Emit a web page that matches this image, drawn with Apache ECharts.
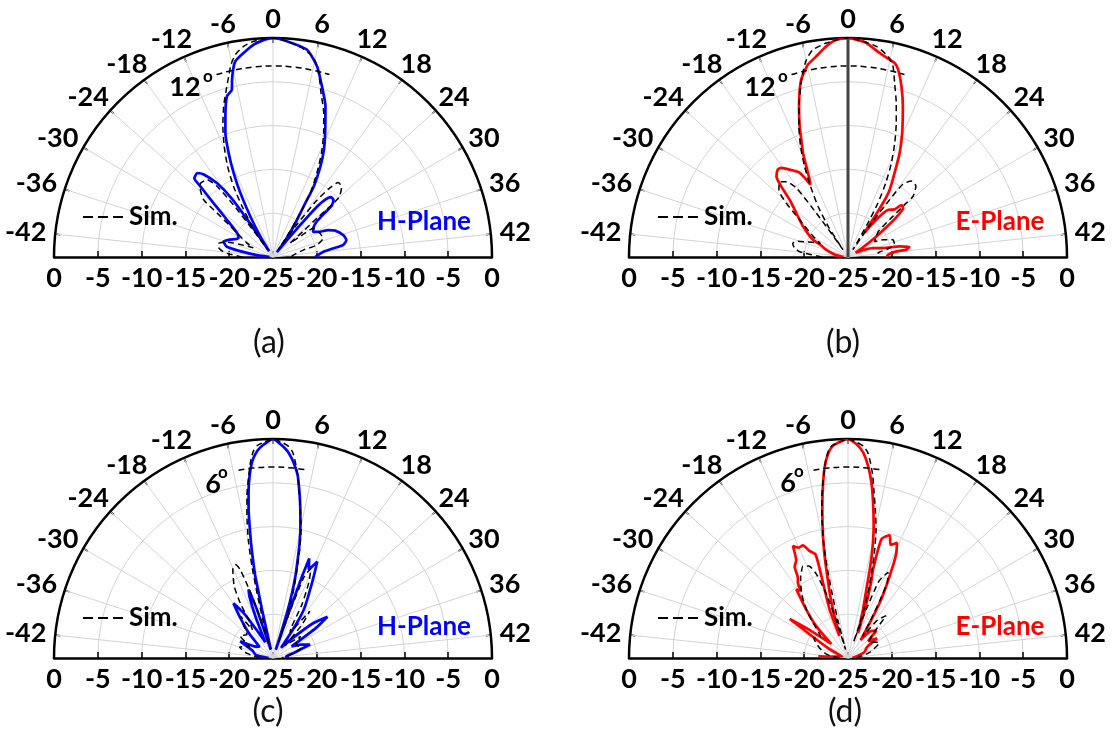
<!DOCTYPE html>
<html><head><meta charset="utf-8">
<script src="https://cdn.jsdelivr.net/npm/echarts@6/dist/echarts.min.js"></script>
<style>html,body{margin:0;padding:0;background:#fff}#c{width:1114px;height:750px}</style>
</head><body><div id="c"></div>
<script>
// ---- tick labels ----
const angleTicks = [-42,-36,-30,-24,-18,-12,-6,0,6,12,18,24,30,36,42];
const radiusTicks = [-25,-20,-15,-10,-5,0];
const captions = ['(a)','(b)','(c)','(d)'];
const planeNames = ['H-Plane','E-Plane','H-Plane','E-Plane'];
const beamLabels = ['12','12','6','6'];

// ---- series values: [angle (deg), level (dB)] ----
const measA = [[-45,-24.6],[-42,-23.3],[-40,-21.3],[-38.7,-19.6],[-37.5,-19.3],[-36.2,-19.1],[-34,-19.7],[-32.5,-20.2],[-30.5,-20.5],[-28.2,-20.1],[-25.5,-18.2],[-23.9,-15.8],[-22.9,-13.4],[-22.5,-12.3],[-21,-12.1],[-20,-12.7],[-18.6,-14.4],[-17.6,-16.8],[-17.2,-20],[-16.6,-24.2],[-15.75,-22.2],[-14.6,-19.7],[-13.5,-16.8],[-12.55,-14.4],[-11.55,-12.1],[-10.5,-9.84],[-9.35,-8.05],[-8.0,-5.92],[-6.9,-5.33],[-6.5,-4.22],[-6.0,-3.13],[-5.45,-2.25],[-4.1,-1.47],[-2.6,-0.66],[-1.68,-0.34],[0,0],[1.86,-0.33],[4.66,-1.02],[6.5,-2.66],[8.0,-4.73],[9.6,-6.79],[11.4,-9.63],[12.7,-11.45],[13.8,-13.3],[15.0,-15.7],[15.6,-18.24],[17,-20.8],[18.6,-23.0],[19.6,-24.3],[20.2,-20.5],[20.6,-17.3],[21.3,-16],[22,-15.5],[23.3,-15.5],[24.4,-16.1],[24.8,-17.3],[25.5,-18.6],[27,-19.3],[29,-19.6],[30.9,-18.9],[32,-18.0],[33.5,-17.3],[36.3,-16.6],[38.5,-16.4],[40.2,-16.9],[40.9,-18.0],[42,-19.2],[45,-20.2]];
const simA = [[-45,-21.5],[-42.5,-19.5],[-40,-18.7],[-38,-18.6],[-36,-19.5],[-34,-21.5],[-32.5,-22.5],[-30.8,-21.6],[-27.1,-19.0],[-25.9,-16.9],[-25.2,-14.7],[-23,-13.4],[-22.2,-13.2],[-20.2,-13.4],[-19.2,-14.7],[-18.6,-17.5],[-18.3,-21],[-18.0,-24],[-17.3,-21.2],[-15.7,-18.2],[-14.6,-15.8],[-13.3,-13.4],[-11.9,-11.2],[-10.5,-9.03],[-9.07,-6.9],[-7.8,-5.17],[-6.9,-3.77],[-6.16,-2.53],[-5.27,-1.5],[-3.96,-0.72],[-2.56,-0.28],[-1.67,-0.15],[0,0],[1.86,-0.33],[4.2,-1.0],[5.77,-1.81],[6.97,-3.36],[8.16,-5.49],[9.7,-7.57],[11.1,-9.7],[12.5,-11.9],[13.8,-14.2],[15.1,-16.5],[15.9,-19.1],[17,-22],[17.6,-24],[18.2,-20.5],[18.8,-17],[19.6,-15],[20.6,-13.7],[22.2,-13.8],[23.9,-14.8],[24.2,-16.05],[24.3,-18.3],[24.8,-20.5],[25.5,-22.5],[26.5,-21],[27.3,-19.35],[31.6,-19.0],[34.8,-18.9],[37.3,-19.8],[38.5,-21.4],[40.6,-22.3],[45,-23]];
const measB = [[-45,-24.5],[-40,-23.5],[-36,-22.4],[-33,-21.5],[-31.8,-20.5],[-27.9,-18.8],[-24.8,-17.25],[-22.8,-15.7],[-21.7,-13.9],[-20.8,-12.7],[-19.35,-12.2],[-18.4,-12.3],[-16.9,-13.0],[-14.95,-13.9],[-13.75,-15.7],[-13.2,-15.15],[-12.35,-13.6],[-11.7,-12.06],[-10.85,-10.6],[-10.15,-9.1],[-9.0,-6.91],[-8.05,-5.12],[-7.4,-4.07],[-6.6,-3.23],[-5.9,-2.58],[-4.5,-1.81],[-2.94,-0.82],[-2.0,-0.32],[-1.1,-0.1],[0,0],[1.1,-0.17],[2.45,-0.48],[4.4,-1.43],[5.96,-1.98],[6.76,-2.22],[7.5,-2.86],[8.7,-4.59],[10.0,-6.69],[11.8,-9.55],[13.2,-11.74],[14.5,-14.03],[15.9,-15.96],[16.5,-17.65],[16.7,-19.45],[16.9,-21.2],[17.3,-21.6],[18.2,-20.2],[19.4,-18.6],[20.3,-17.9],[21.5,-17.6],[22.3,-17.35],[22.9,-16.5],[24.3,-16.6],[25.2,-17.8],[26,-19.3],[27,-21],[28.5,-23],[30,-24],[33,-23],[35,-22],[37.8,-20.9],[39.2,-19],[40.4,-17.9],[41.4,-18.3],[41.7,-19.4],[43.3,-20.4],[45,-20.6]];
const simB = [[-45,-22],[-42,-19.5],[-40.2,-18.8],[-38,-18.5],[-36.6,-18.8],[-34,-20.5],[-32,-21.5],[-29.7,-20.4],[-26.2,-18.0],[-24.4,-15.6],[-22.9,-14.0],[-21.2,-13.4],[-19.6,-13.9],[-18.4,-15.2],[-18.0,-18],[-17.6,-21.5],[-17.2,-24],[-16.5,-21],[-15.3,-18.3],[-14,-15.9],[-12.8,-13.5],[-11.6,-11.26],[-10.3,-9.07],[-9,-6.9],[-7.75,-4.78],[-6.8,-3.2],[-5.96,-1.98],[-4.8,-1.0],[-2.9,-0.45],[-1.3,-0.16],[0,0],[1.54,-0.23],[3.83,-0.73],[5.64,-1.64],[6.64,-2.64],[7.5,-4.44],[8.7,-6.58],[9.9,-8.74],[11.15,-10.94],[12.4,-13.2],[13.5,-15.5],[14.5,-17.95],[15.2,-20.5],[16,-23],[16.6,-24],[17.3,-20.5],[18,-16.9],[18.5,-14.6],[19.9,-13.7],[21.9,-13.8],[23.5,-14.85],[23.6,-15.9],[23.9,-18.1],[25,-20.5],[27,-21],[30,-21.5],[32,-20.5],[34.5,-19.5],[37,-19.5],[38.9,-20.1],[41,-21.5],[45,-22]];
const measC = [[-45,-24.5],[-40,-23],[-35,-22.5],[-31.5,-20.8],[-29,-22.5],[-25,-23],[-22,-21],[-19.5,-19],[-17.95,-17.3],[-16.5,-19],[-15,-21.5],[-13,-23],[-11.5,-20],[-10.5,-17.5],[-9.8,-16.7],[-9.2,-19],[-8.5,-23],[-7.0,-24],[-6.5,-21.7],[-6.4,-19.3],[-6.2,-17.4],[-6.1,-15.4],[-5.75,-13.5],[-5.4,-11.6],[-5.02,-9.69],[-4.66,-7.79],[-4.2,-5.9],[-3.66,-4.03],[-3.07,-2.54],[-2.48,-1.63],[-1.73,-0.91],[-0.8,-0.37],[0,0],[0.98,-0.56],[1.94,-1.28],[2.74,-2.19],[3.35,-3.1],[3.87,-4.0],[4.68,-6.24],[5.2,-7.73],[5.86,-9.6],[6.5,-11.48],[7.04,-13.4],[7.65,-15.3],[8.15,-17.24],[8.6,-19.5],[9.0,-22.5],[9.3,-24],[9.6,-20],[9.8,-15],[10,-12.9],[11,-14.1],[12.35,-12.9],[13.7,-15.3],[16.2,-18.4],[17.5,-21],[19,-23.5],[22,-22],[24.5,-19],[26.4,-17.2],[27.5,-19],[29,-22.5],[32,-21.5],[35,-20.5],[38,-22.5],[42,-23.5],[45,-23.2]];
const simC = [[-45,-23.5],[-40,-22],[-36,-21],[-32,-22],[-28,-20.5],[-24,-21],[-21,-20],[-19,-19],[-18,-21],[-16.5,-20.2],[-15.4,-17.7],[-14.2,-15.7],[-12.2,-13.9],[-11,-13.5],[-10.2,-14.2],[-9.5,-17],[-8.8,-21],[-8.2,-24],[-7.5,-20.85],[-6.9,-17.3],[-6.45,-14.2],[-5.97,-11.54],[-5.2,-8.51],[-4.57,-6.25],[-3.8,-4.01],[-3.16,-2.15],[-2.67,-1.23],[-2.16,-0.7],[-1.24,-0.36],[0,0],[1.2,-0.37],[2.12,-0.78],[2.74,-1.42],[3.27,-2.53],[3.87,-4.0],[4.48,-5.88],[5.2,-7.73],[6.15,-9.96],[6.9,-12.2],[7.6,-14.5],[8.55,-17.2],[9.3,-20],[9.6,-23],[10,-19],[10.5,-15],[11.5,-13.9],[12.7,-15.5],[14.2,-18.05],[15.5,-21],[17,-21.5],[19.1,-18.2],[20.5,-20],[22,-23],[26,-21],[30,-22],[35,-21.5],[40,-23],[45,-24]];
const measD = [[-43.4,-21.6],[-42,-23.5],[-38,-24.3],[-32,-22.5],[-28.1,-17.0],[-27,-19.5],[-25,-22.5],[-22.5,-19.9],[-20.4,-17.7],[-18.5,-15.2],[-17.5,-15.6],[-16.85,-14.7],[-16,-14.2],[-15.1,-12.9],[-14,-12.4],[-13.1,-10.75],[-12,-11.2],[-10.9,-11.15],[-9.9,-12.0],[-8.7,-12.6],[-9.0,-15.2],[-10.4,-19.1],[-10.5,-22.3],[-8.9,-20],[-8.0,-17.66],[-7.1,-15.35],[-6.46,-13.05],[-5.8,-10.8],[-4.9,-7.76],[-4.14,-5.14],[-3.5,-3.08],[-2.8,-1.6],[-2.03,-0.7],[-0.66,-0.18],[0,0],[1.12,-0.55],[2.1,-1.47],[2.98,-2.94],[3.8,-4.79],[4.58,-7.02],[5.5,-9.64],[6.33,-12.29],[6.9,-14.58],[7.5,-16.9],[8.6,-19.2],[10.9,-21.9],[9.5,-19],[8.5,-16],[7.9,-14.5],[7.87,-10.9],[9.4,-10.2],[10.3,-11.2],[11.5,-10.7],[12.35,-11.8],[13.0,-13.3],[14.0,-15.7],[14.95,-17.7],[15.9,-20.3],[17.5,-22.5],[20,-21],[23,-20.5],[25,-22],[28,-21],[30,-22.5],[35,-23],[40,-24],[45,-24.5]];
const simD = [[-45,-24],[-40,-22.5],[-35,-21.5],[-30,-20.5],[-26,-21],[-22,-19],[-20,-17.5],[-18,-16],[-15.5,-14.5],[-13,-13.3],[-11.5,-13.6],[-10.3,-14.8],[-9.3,-17.5],[-8.6,-21],[-8.1,-24],[-7.5,-20.5],[-6.9,-17.3],[-6.45,-14.2],[-5.97,-11.54],[-5.2,-8.51],[-4.57,-6.25],[-3.8,-4.01],[-3.16,-2.15],[-2.67,-1.23],[-2.16,-0.7],[-1.24,-0.36],[0,0],[1.2,-0.37],[2.12,-0.78],[2.74,-1.42],[3.27,-2.53],[3.87,-4.0],[4.48,-5.88],[5.2,-7.73],[6.15,-9.96],[6.9,-12.2],[7.6,-14.5],[8.55,-17.2],[9.3,-20],[9.6,-23],[10.3,-19],[11,-15.5],[12.5,-14.2],[13.5,-15],[14.5,-17.5],[15.5,-20],[17,-22],[19,-19.5],[21,-18.5],[23,-21],[26,-22],[32,-21],[38,-22.5],[45,-24]];
// beamwidth marker arcs [angle, dB]
const beamArcWide = [[-8.6,-3.2],[-6,-3.2],[-3,-3.2],[0,-3.2],[3,-3.2],[6,-3.2],[8.6,-3.2]];
const beamArcNarrow = [[-5.2,-3.2],[-3,-3.2],[0,-3.2],[3,-3.2],[5.2,-3.2]];

// ---- layout ----
const R = 219;
const panels = [
  {cx:273, cy:257, meas:measA, sim:simA, color:'#0000ff', arc:beamArcWide, cap:[269,343], plane:[424,222], bw:[185,87], deg:[208,77]},
  {cx:848, cy:257, meas:measB, sim:simB, color:'#ff0000', arc:beamArcWide, zeroLine:true, cap:[843,343], plane:[1000,222], bw:[760,87], deg:[783,77]},
  {cx:273, cy:658, meas:measC, sim:simC, color:'#0000ff', arc:beamArcNarrow, cap:[268,712], plane:[424,627], bw:[213,484], deg:[223,473]},
  {cx:848, cy:658, meas:measD, sim:simD, color:'#ff0000', arc:beamArcNarrow, cap:[845,712], plane:[1000,627], bw:[788,483], deg:[799,472]}
];
const FONT = 'Lato';
const LABEL_SIZE = 27;
const toPolar = arr => arr.map(p => [p[1], p[0]]);

// angle-axis label boxes: centre each label on its spoke, just outside the rim
const mctx = document.createElement('canvas').getContext('2d');
mctx.font = 'bold ' + LABEL_SIZE + 'px ' + FONT;
const M_AXIS = -20, M_GAP = 9, GLYPH_H = 20, LH = LABEL_SIZE;
const angleRich = {};
angleTicks.forEach((v, k) => {
  const phi = 2 * v * Math.PI / 180;
  const s = Math.sin(phi), c = Math.cos(phi);
  const W = mctx.measureText(String(v)).width;
  const Cx = (R + M_GAP) * s + W / 2 * s, Cy = (R + M_GAP) * c + GLYPH_H / 2 * c;
  const Ax = (R + M_AXIS) * s, Ay = (R + M_AXIS) * c;
  const kk = (R + M_AXIS) / R;
  let pl = 0, pr = 0, pt = 0, pb = 0;
  if (Math.abs(s) * kk < 0.3) { const d = 2 * (Cx - Ax); if (d > 0) pl = d; else pr = -d; }
  else if (s > 0) pl = Cx - Ax - W / 2;
  else pr = Ax - Cx - W / 2;
  if (Math.abs(c) * kk < 0.3) { const d = 2 * (Cy - Ay); if (d > 0) pb = d; else pt = -d; }
  else pb = Cy - Ay - LH / 2;
  angleRich['t' + k] = {fontFamily:FONT, fontWeight:'bold', fontSize:LABEL_SIZE, color:'#000',
    padding:[Math.max(0,pt), Math.max(0,pr), Math.max(0,pb), Math.max(0,pl)]};
});

const polar = [], angleAxis = [], radiusAxis = [], series = [], title = [], legend = [];
const addText = (text, pos, style) => title.push({text, left:pos[0], top:pos[1], padding:0,
  textAlign:'center', textVerticalAlign:'middle', textStyle:Object.assign({fontFamily:FONT}, style)});

panels.forEach((p, i) => {
  const mainIdx = 2*i, sideIdx = 2*i+1;
  polar.push({center:[p.cx, p.cy], radius:R});
  polar.push({center:[p.cx, p.cy], radius:R});
  angleAxis.push({
    polarIndex: mainIdx, type:'value', min:-45, max:45, startAngle:180, endAngle:0, clockwise:true,
    axisLine:{show:true, lineStyle:{color:'#000', width:2.5}},
    axisTick:{show:true, inside:true, length:5, customValues:angleTicks, lineStyle:{color:'#000', width:1.5}},
    axisLabel:{show:true, customValues:angleTicks, margin:M_AXIS,
      formatter: v => '{t' + angleTicks.indexOf(v) + '|' + v + '}', rich: angleRich},
    splitLine:{show:true, lineStyle:{color:'#d4d4d4', width:1}},
    z: 1
  });
  angleAxis.push({polarIndex: sideIdx, type:'value', min:-45, max:45, startAngle:0, show:false});
  radiusAxis.push({
    polarIndex: mainIdx, type:'value', min:-25, max:0, interval:5,
    axisLine:{show:true, lineStyle:{color:'#000', width:2.5}},
    axisTick:{show:true, length:-6, lineStyle:{color:'#000', width:1.5}},
    axisLabel:{show:true, margin:8, color:'#000', fontFamily:FONT, fontWeight:'bold', fontSize:LABEL_SIZE},
    splitLine:{show:true, lineStyle:{color:'#d4d4d4', width:1}}
  });
  radiusAxis.push({
    polarIndex: sideIdx, type:'value', min:-25, max:0, interval:5,
    axisLine:{show:true, lineStyle:{color:'#000', width:2.5}},
    axisTick:{show:true, length:6, lineStyle:{color:'#000', width:1.5}},
    axisLabel:{show:true, margin:-35, color:'#000', fontFamily:FONT, fontWeight:'bold', fontSize:LABEL_SIZE,
      formatter: v => (v === radiusTicks[0] ? '' : String(v))},
    splitLine:{show:false}
  });
  if (p.zeroLine) {
    series.push({type:'line', coordinateSystem:'polar', polarIndex:mainIdx, data:[[-25,0],[0,0]],
      symbol:'none', silent:true, lineStyle:{color:'#444', width:3}, z:3});
  }
  series.push({name:planeNames[i], type:'line', coordinateSystem:'polar', polarIndex:mainIdx,
    data: toPolar(p.meas), symbol:'none', smooth:0.2, itemStyle:{color:p.color},
    lineStyle:{color:p.color, width:2.7}, z:4});
  series.push({name:'Sim.', type:'line', coordinateSystem:'polar', polarIndex:mainIdx,
    data: toPolar(p.sim), symbol:'none', smooth:0.2, itemStyle:{color:'#000'},
    lineStyle:{color:'#000', width:1.5, type:[6,4]}, z:5});
  series.push({name:'beam', type:'line', coordinateSystem:'polar', polarIndex:mainIdx,
    data: toPolar(p.arc), symbol:'none', smooth:true, itemStyle:{color:'#000'},
    lineStyle:{color:'#000', width:1.5, type:[6,4]}, z:5});
  legend.push({data:['Sim.'], left:p.cx-191, top:p.cy-53, padding:0, itemWidth:41, itemHeight:20,
    selectedMode:false, itemStyle:{opacity:0},
    lineStyle:{type:[10,5], width:2, color:'#000'},
    textStyle:{fontFamily:FONT, fontWeight:'bold', fontSize:26, color:'#000'}});
  addText(planeNames[i], p.plane, {color:p.color, fontWeight:'bold', fontSize:26});
  addText(beamLabels[i], p.bw, {color:'#000', fontWeight:'bold', fontSize:27});
  addText('o', p.deg, {color:'#000', fontWeight:'bold', fontSize:17});
  addText(captions[i], p.cap, {color:'#111', fontWeight:'normal', fontSize:32});
});

const chart = echarts.init(document.getElementById('c'), null, {renderer:'canvas'});
chart.setOption({animation:false, backgroundColor:'#fff', polar, angleAxis, radiusAxis, series, title, legend});
</script></body></html>
